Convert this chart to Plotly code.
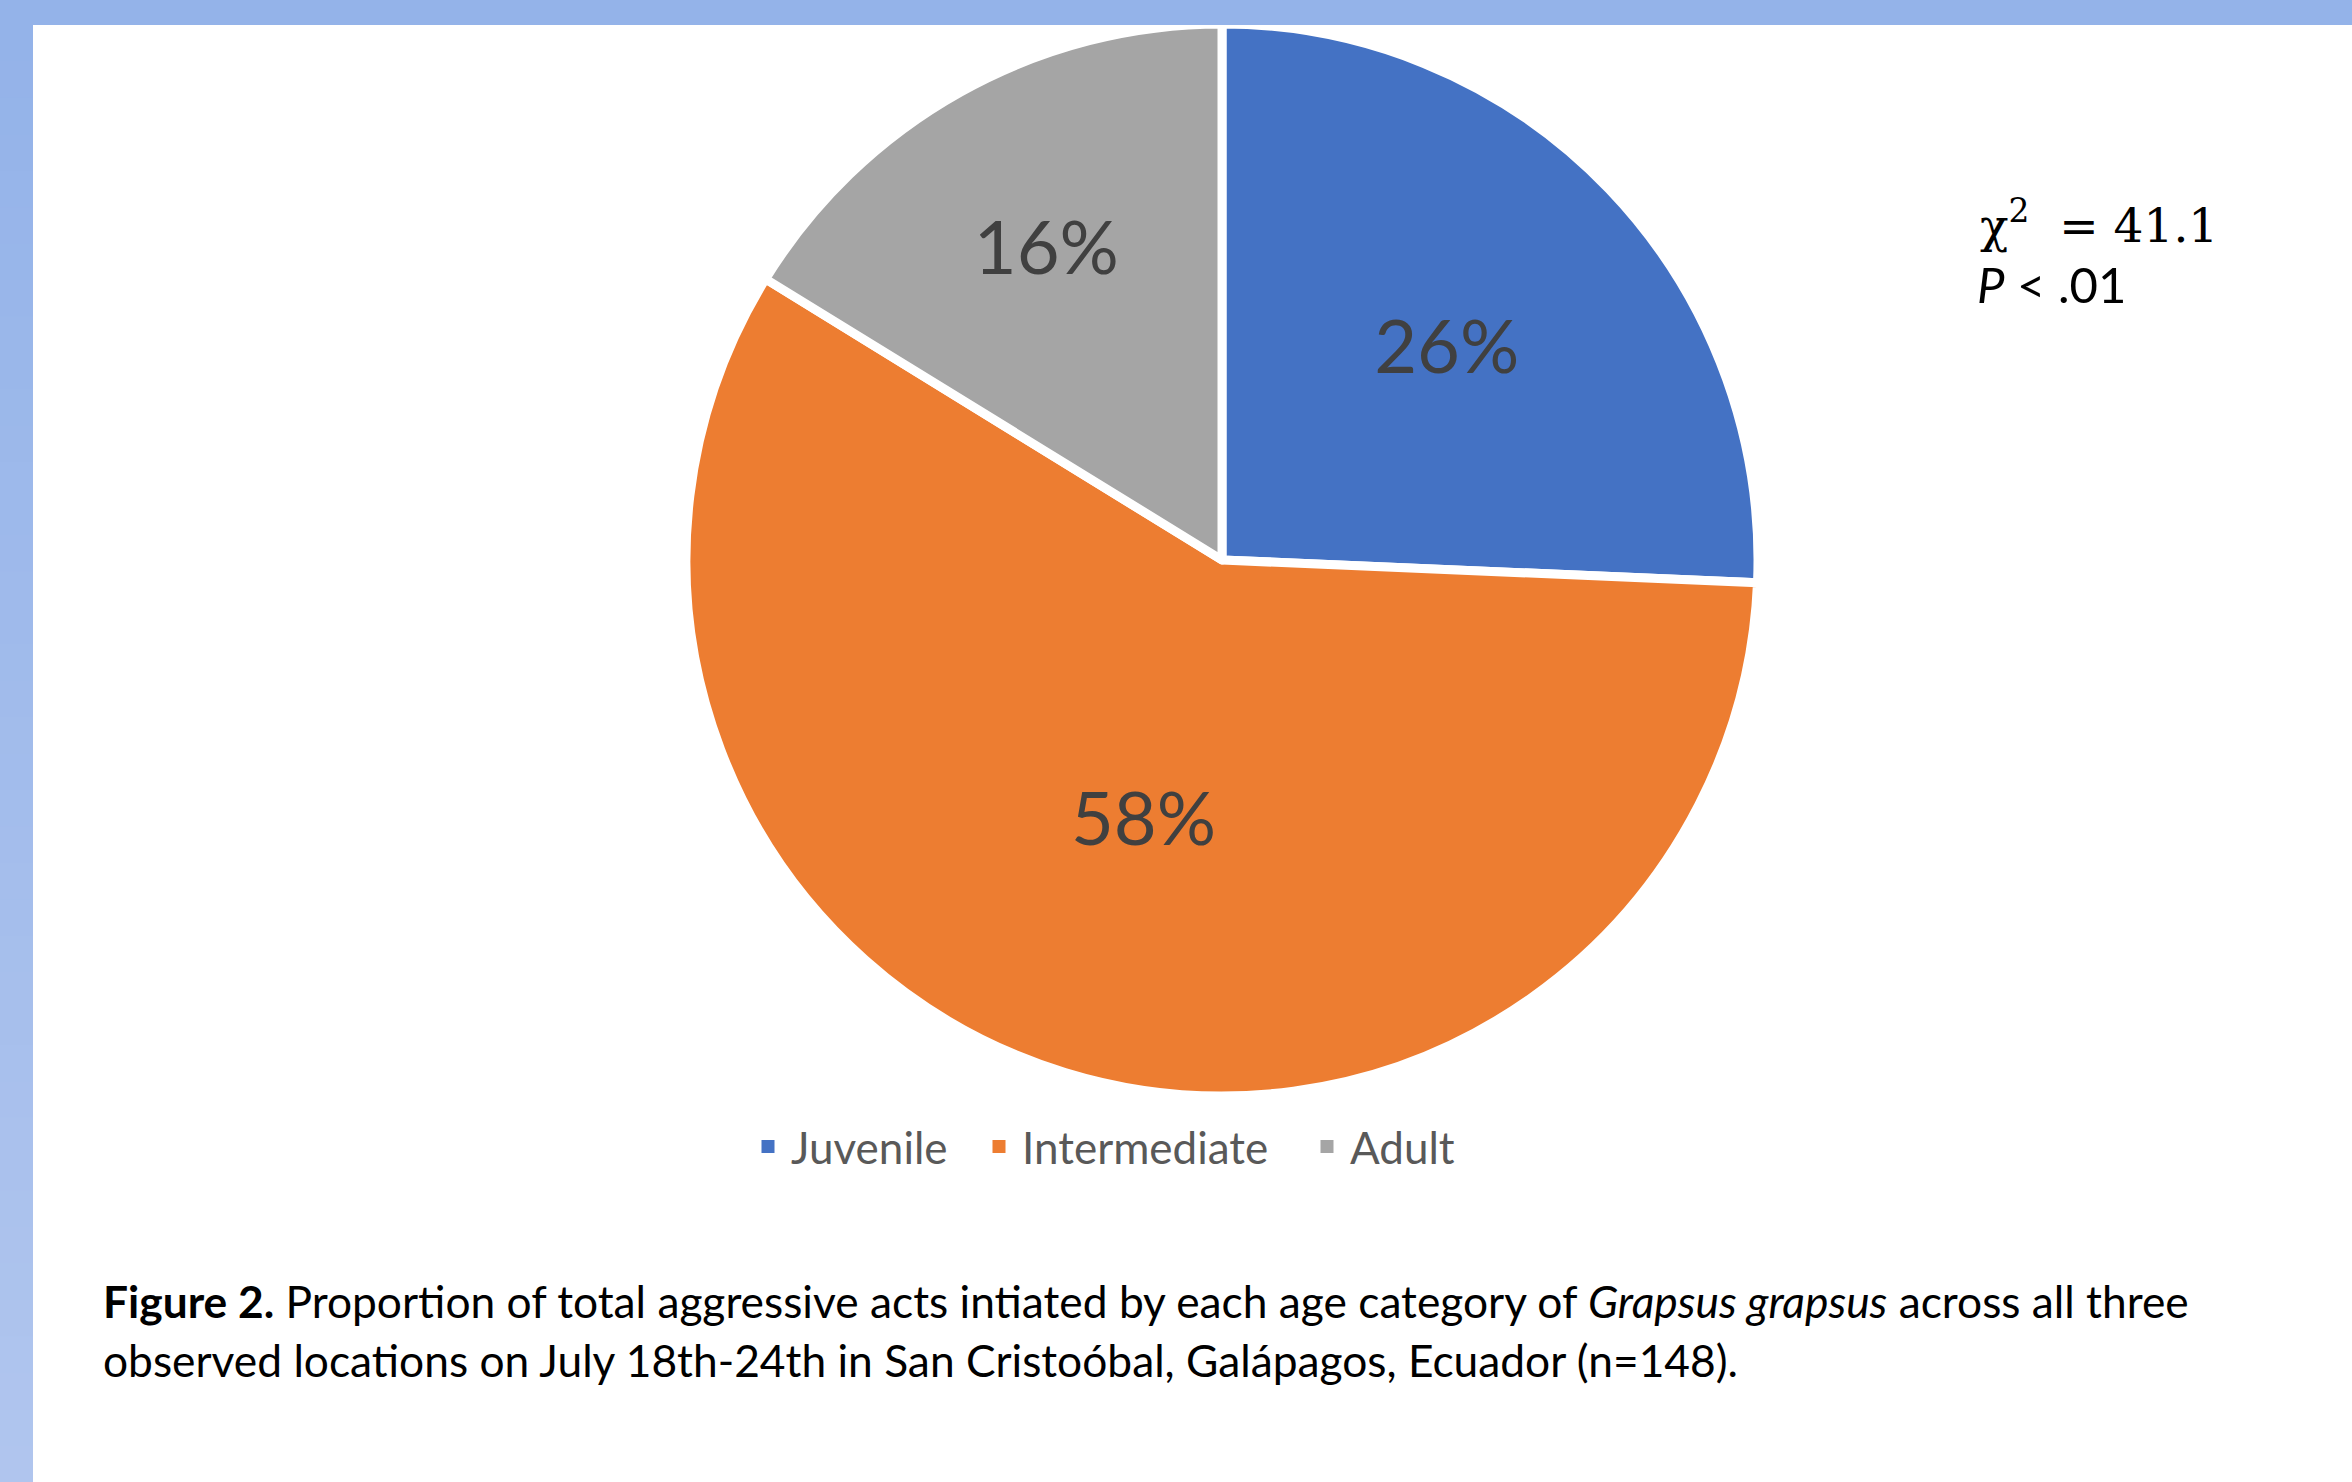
import plotly.graph_objects as go

# ---- data ----
categories = ["Juvenile", "Intermediate", "Adult"]
counts = [38, 86, 24]          # n = 148
slice_colors = ["#4472C4", "#ED7D31", "#A5A5A5"]
stat_line1 = "χ<sup>2</sup>\u00a0\u00a0= 41.1"
stat_line2 = "<i>P</i> < .01"
caption_line1 = ("<b>Figure 2.</b> Proportion of total aggressive acts intiated by each age category of "
                 "<i>Grapsus grapsus</i> across all three")
caption_line2 = "observed locations on July 18th-24th in San Cristoóbal, Galápagos, Ecuador (n=148)."

# legend entry widths (style only)
legend_entry_widths = [180, 277, 110]

W, H = 2352, 1482

def px_x(x):
    return x / W

def px_y(y):
    return 1 - y / H

fig = go.Figure()
fig.add_trace(go.Pie(
    labels=categories,
    values=counts,
    sort=False,
    direction="clockwise",
    rotation=0,
    marker=dict(colors=slice_colors, line=dict(color="white", width=9)),
    texttemplate="%{percent:.0%}",
    textposition="inside",
    insidetextorientation="horizontal",
    textfont=dict(family="Lato", size=74, color="#404040"),
    hoverinfo="label+percent",
    showlegend=False,
    domain=dict(x=[px_x(1222 - 536), px_x(1222 + 536)],
                y=[px_y(560 + 536), px_y(560 - 536)]),
))

# legend entries (legend-only keys matching the slices)
for name, col, lw in zip(categories, slice_colors, legend_entry_widths):
    fig.add_trace(go.Scatter(
        x=[None], y=[None], mode="markers", name=name,
        marker=dict(symbol="square", size=13, color=col, line=dict(width=0)),
        legendwidth=lw, showlegend=True, hoverinfo="skip",
    ))

shapes = []
# left border band with a vertical gradient
n_steps = 40
c0 = (148, 179, 233)
c1 = (176, 197, 238)
for i in range(n_steps):
    t = i / (n_steps - 1)
    col = "rgb(%d,%d,%d)" % tuple(round(a + (b - a) * t) for a, b in zip(c0, c1))
    y_top = 25 + (H - 25) * i / n_steps
    y_bot = 25 + (H - 25) * (i + 1) / n_steps
    shapes.append(dict(type="rect", xref="paper", yref="paper",
                       x0=0, x1=px_x(33), y0=px_y(y_bot + 1), y1=px_y(y_top),
                       fillcolor=col, line=dict(width=0), layer="above"))
# top band
shapes.append(dict(type="rect", xref="paper", yref="paper",
                   x0=0, x1=1, y0=px_y(25), y1=1,
                   fillcolor="rgb(148,179,233)", line=dict(width=0), layer="above"))

annotations = [
    dict(text=stat_line1, x=px_x(1978), y=px_y(222), xref="paper", yref="paper",
         xanchor="left", yanchor="middle", showarrow=False, align="left",
         font=dict(family="DejaVu Serif", size=47, color="black")),
    dict(text=stat_line2, x=px_x(1975), y=px_y(284), xref="paper", yref="paper",
         xanchor="left", yanchor="middle", showarrow=False, align="left",
         font=dict(family="Lato", size=49, color="black")),
    dict(text=caption_line1, x=px_x(101), y=px_y(1300), xref="paper", yref="paper",
         xanchor="left", yanchor="middle", showarrow=False, align="left",
         font=dict(family="Lato", size=44.3, color="black")),
    dict(text=caption_line2, x=px_x(101), y=px_y(1359), xref="paper", yref="paper",
         xanchor="left", yanchor="middle", showarrow=False, align="left",
         font=dict(family="Lato", size=44.3, color="black")),
]

fig.update_layout(
    width=W, height=H,
    margin=dict(l=0, r=0, t=0, b=0),
    paper_bgcolor="white",
    plot_bgcolor="white",
    xaxis=dict(visible=False),
    yaxis=dict(visible=False),
    showlegend=True,
    legend=dict(orientation="h", x=px_x(768 - 23), y=px_y(1147),
                xanchor="left", yanchor="middle",
                font=dict(family="Lato", size=44, color="#595959"),
                itemwidth=36, traceorder="normal",
                bgcolor="rgba(0,0,0,0)"),
    shapes=shapes,
    annotations=annotations,
)

fig.write_html(
    "out.html",
    config={"displayModeBar": False},
    post_script="document.body.style.margin='0px';document.body.style.padding='0px';"
                "document.body.style.overflow='hidden';",
)
